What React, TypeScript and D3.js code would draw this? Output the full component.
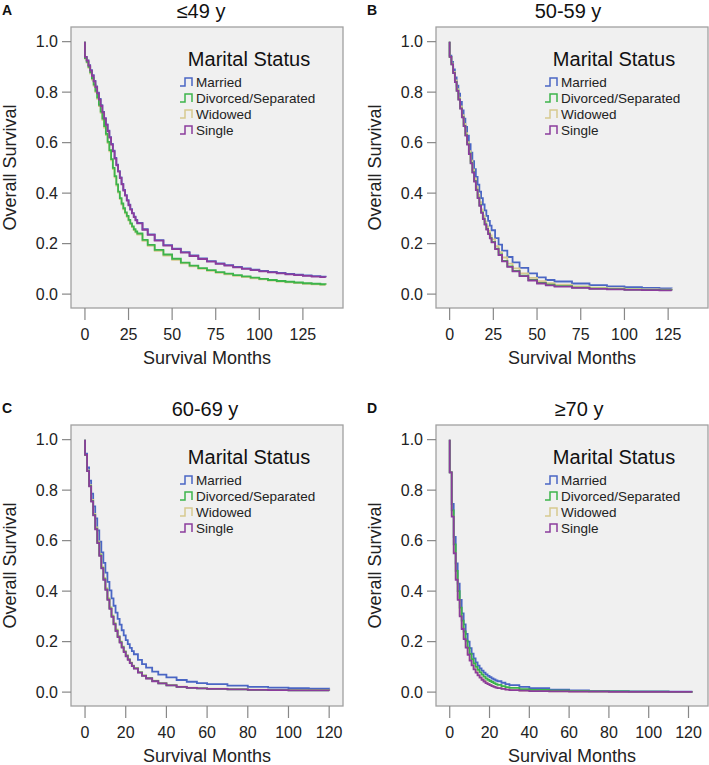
import React from 'react';
import * as d3 from 'd3';

const groupLabels = ['Married', 'Divorced/Separated', 'Widowed', 'Single'];
const groupColors = ['#4a66c4', '#3cb44b', '#d6c98e', '#8b3c9c'];
// draw order: married, widowed, divorced, single (single on top)
const drawOrder = [0, 2, 1, 3];

// ≤49 y
const timesA = [0, 1, 2, 3, 4, 5, 6, 7, 8, 9, 10, 11, 12, 13, 14, 15, 16, 17, 18, 19, 20, 21, 22, 23, 24, 25, 26, 27, 28, 29, 30, 33, 36, 40, 45, 50, 55, 60, 65, 70, 75, 80, 85, 90, 95, 100, 105, 110, 115, 120, 125, 130, 135, 138];
const marriedA = [0.94, 0.926, 0.907, 0.887, 0.867, 0.845, 0.823, 0.798, 0.773, 0.748, 0.722, 0.697, 0.672, 0.647, 0.622, 0.595, 0.568, 0.54, 0.513, 0.487, 0.462, 0.437, 0.413, 0.392, 0.372, 0.354, 0.337, 0.321, 0.307, 0.294, 0.282, 0.257, 0.237, 0.214, 0.194, 0.18, 0.166, 0.153, 0.141, 0.131, 0.122, 0.115, 0.108, 0.102, 0.097, 0.092, 0.088, 0.084, 0.08, 0.077, 0.074, 0.071, 0.069, 0.068];
const divorcedA = [0.935, 0.92, 0.9, 0.878, 0.855, 0.83, 0.805, 0.778, 0.75, 0.723, 0.695, 0.665, 0.635, 0.603, 0.57, 0.535, 0.5, 0.467, 0.435, 0.406, 0.38, 0.359, 0.34, 0.324, 0.31, 0.294, 0.28, 0.268, 0.257, 0.248, 0.24, 0.215, 0.195, 0.175, 0.157, 0.14, 0.125, 0.113, 0.103, 0.095, 0.087, 0.081, 0.075, 0.07, 0.065, 0.06, 0.056, 0.052, 0.049, 0.046, 0.043, 0.041, 0.039, 0.038];
const widowedA = [0.933, 0.917, 0.896, 0.873, 0.85, 0.825, 0.8, 0.773, 0.745, 0.718, 0.69, 0.66, 0.63, 0.598, 0.565, 0.53, 0.495, 0.462, 0.43, 0.402, 0.376, 0.355, 0.336, 0.32, 0.306, 0.291, 0.277, 0.265, 0.254, 0.245, 0.236, 0.211, 0.191, 0.171, 0.153, 0.136, 0.122, 0.11, 0.1, 0.092, 0.084, 0.078, 0.072, 0.067, 0.062, 0.058, 0.054, 0.05, 0.047, 0.044, 0.041, 0.039, 0.037, 0.036];
const singleA = [0.94, 0.925, 0.905, 0.885, 0.865, 0.843, 0.82, 0.795, 0.77, 0.745, 0.72, 0.695, 0.67, 0.645, 0.62, 0.592, 0.565, 0.537, 0.51, 0.485, 0.46, 0.435, 0.41, 0.39, 0.37, 0.352, 0.335, 0.32, 0.305, 0.292, 0.28, 0.255, 0.235, 0.212, 0.192, 0.178, 0.164, 0.151, 0.139, 0.129, 0.12, 0.113, 0.106, 0.1, 0.095, 0.09, 0.086, 0.082, 0.078, 0.075, 0.072, 0.069, 0.067, 0.066];

// 50-59 y
const timesB = [0, 1, 2, 3, 4, 5, 6, 7, 8, 9, 10, 11, 12, 13, 14, 15, 16, 17, 18, 19, 20, 21, 22, 23, 24, 26, 28, 30, 33, 36, 40, 45, 50, 55, 60, 70, 80, 90, 100, 110, 120, 127];
const marriedB = [0.945, 0.92, 0.89, 0.858, 0.826, 0.794, 0.761, 0.728, 0.695, 0.662, 0.628, 0.594, 0.56, 0.527, 0.495, 0.464, 0.434, 0.406, 0.38, 0.355, 0.332, 0.31, 0.29, 0.271, 0.253, 0.222, 0.196, 0.172, 0.147, 0.126, 0.104, 0.082, 0.066, 0.056, 0.05, 0.042, 0.036, 0.031, 0.028, 0.025, 0.023, 0.022];
const divorcedB = [0.94, 0.91, 0.876, 0.841, 0.806, 0.771, 0.736, 0.701, 0.666, 0.63, 0.594, 0.557, 0.52, 0.483, 0.448, 0.414, 0.382, 0.352, 0.324, 0.299, 0.277, 0.258, 0.24, 0.223, 0.207, 0.18, 0.157, 0.132, 0.11, 0.092, 0.073, 0.056, 0.044, 0.037, 0.032, 0.026, 0.022, 0.02, 0.018, 0.017, 0.016, 0.015];
const widowedB = [0.94, 0.913, 0.88, 0.846, 0.812, 0.778, 0.744, 0.709, 0.674, 0.638, 0.602, 0.566, 0.529, 0.493, 0.458, 0.425, 0.393, 0.364, 0.336, 0.311, 0.288, 0.268, 0.25, 0.233, 0.217, 0.19, 0.166, 0.145, 0.121, 0.102, 0.082, 0.064, 0.051, 0.043, 0.037, 0.031, 0.026, 0.023, 0.02, 0.019, 0.018, 0.017];
const singleB = [0.94, 0.91, 0.875, 0.84, 0.805, 0.77, 0.735, 0.7, 0.665, 0.628, 0.592, 0.555, 0.518, 0.481, 0.446, 0.412, 0.38, 0.35, 0.322, 0.297, 0.275, 0.256, 0.238, 0.221, 0.205, 0.178, 0.155, 0.13, 0.108, 0.09, 0.071, 0.054, 0.042, 0.035, 0.03, 0.025, 0.021, 0.019, 0.017, 0.016, 0.015, 0.014];

// 60-69 y
const timesC = [0, 1, 2, 3, 4, 5, 6, 7, 8, 9, 10, 11, 12, 13, 14, 15, 16, 17, 18, 19, 20, 21, 22, 23, 24, 26, 28, 30, 33, 36, 40, 45, 50, 55, 60, 70, 80, 90, 100, 110, 120];
const marriedC = [0.945, 0.89, 0.838, 0.786, 0.736, 0.688, 0.641, 0.596, 0.553, 0.512, 0.473, 0.437, 0.403, 0.371, 0.342, 0.315, 0.29, 0.267, 0.245, 0.225, 0.206, 0.19, 0.175, 0.162, 0.15, 0.128, 0.111, 0.097, 0.081, 0.069, 0.058, 0.048, 0.041, 0.036, 0.032, 0.026, 0.021, 0.018, 0.016, 0.014, 0.013];
const divorcedC = [0.94, 0.876, 0.817, 0.757, 0.702, 0.647, 0.592, 0.542, 0.492, 0.447, 0.407, 0.367, 0.332, 0.3, 0.27, 0.244, 0.22, 0.198, 0.178, 0.16, 0.144, 0.13, 0.116, 0.104, 0.094, 0.078, 0.065, 0.055, 0.044, 0.035, 0.027, 0.021, 0.017, 0.015, 0.013, 0.011, 0.009, 0.008, 0.007, 0.007, 0.006];
const widowedC = [0.94, 0.878, 0.82, 0.761, 0.706, 0.652, 0.597, 0.547, 0.497, 0.452, 0.412, 0.372, 0.337, 0.304, 0.274, 0.248, 0.223, 0.201, 0.181, 0.162, 0.146, 0.132, 0.118, 0.106, 0.096, 0.079, 0.066, 0.056, 0.045, 0.036, 0.028, 0.022, 0.018, 0.016, 0.014, 0.012, 0.01, 0.009, 0.008, 0.008, 0.007];
const singleC = [0.94, 0.875, 0.815, 0.755, 0.7, 0.645, 0.59, 0.54, 0.49, 0.445, 0.405, 0.365, 0.33, 0.298, 0.268, 0.242, 0.218, 0.196, 0.176, 0.158, 0.142, 0.128, 0.115, 0.103, 0.093, 0.077, 0.064, 0.054, 0.043, 0.035, 0.027, 0.021, 0.017, 0.015, 0.013, 0.011, 0.009, 0.008, 0.007, 0.007, 0.006];

// ≥70 y
const timesD = [0, 1, 2, 3, 4, 5, 6, 7, 8, 9, 10, 11, 12, 13, 14, 15, 16, 17, 18, 19, 20, 21, 22, 23, 24, 26, 28, 30, 35, 40, 50, 60, 70, 80, 90, 100, 110, 122];
const marriedD = [0.87, 0.745, 0.615, 0.51, 0.43, 0.365, 0.312, 0.268, 0.231, 0.2, 0.174, 0.152, 0.134, 0.118, 0.105, 0.094, 0.085, 0.077, 0.07, 0.064, 0.059, 0.054, 0.05, 0.046, 0.043, 0.037, 0.032, 0.028, 0.021, 0.016, 0.01, 0.007, 0.005, 0.004, 0.003, 0.003, 0.002, 0.002];
const divorcedD = [0.87, 0.72, 0.585, 0.48, 0.4, 0.335, 0.283, 0.24, 0.204, 0.175, 0.151, 0.131, 0.114, 0.1, 0.088, 0.078, 0.069, 0.061, 0.054, 0.049, 0.044, 0.04, 0.036, 0.032, 0.029, 0.024, 0.02, 0.017, 0.012, 0.009, 0.006, 0.004, 0.003, 0.003, 0.002, 0.002, 0.001, 0.001];
const widowedD = [0.87, 0.7, 0.555, 0.45, 0.37, 0.305, 0.255, 0.214, 0.18, 0.152, 0.128, 0.109, 0.093, 0.08, 0.068, 0.059, 0.051, 0.044, 0.038, 0.033, 0.029, 0.025, 0.022, 0.019, 0.017, 0.014, 0.011, 0.009, 0.006, 0.005, 0.003, 0.002, 0.002, 0.001, 0.001, 0.001, 0.001, 0.001];
const singleD = [0.87, 0.695, 0.55, 0.445, 0.365, 0.3, 0.25, 0.21, 0.176, 0.148, 0.125, 0.106, 0.09, 0.077, 0.066, 0.057, 0.049, 0.042, 0.036, 0.032, 0.028, 0.024, 0.021, 0.018, 0.016, 0.013, 0.01, 0.008, 0.006, 0.004, 0.003, 0.002, 0.002, 0.001, 0.001, 0.001, 0.001, 0.001];

const xTicksAB = [0, 25, 50, 75, 100, 125];
const xTicksCD = [0, 20, 40, 60, 80, 100, 120];
const yTicks = [0, 0.2, 0.4, 0.6, 0.8, 1.0];

const panels = [
  { letter: 'A', title: '≤49 y', times: timesA, series: [marriedA, divorcedA, widowedA, singleA], xTicks: xTicksAB, xDomain: [-8, 148], left: 71, top: 27, titleX: 201 },
  { letter: 'B', title: '50-59 y', times: timesB, series: [marriedB, divorcedB, widowedB, singleB], xTicks: xTicksAB, xDomain: [-7.8, 147.8], left: 436, top: 27, titleX: 568 },
  { letter: 'C', title: '60-69 y', times: timesC, series: [marriedC, divorcedC, widowedC, singleC], xTicks: xTicksCD, xDomain: [-6.9, 126.8], left: 71, top: 425, titleX: 205 },
  { letter: 'D', title: '≥70 y', times: timesD, series: [marriedD, divorcedD, widowedD, singleD], xTicks: xTicksCD, xDomain: [-6.9, 129.8], left: 436, top: 425, titleX: 579 },
];

const W = 272;
const H = 281;
const FONT = 'Liberation Sans, Arial, Helvetica, sans-serif';

const Panel = ({ p }) => {
  const x = d3.scaleLinear().domain(p.xDomain).range([0, W]);
  const y = d3.scaleLinear().domain([-0.055, 1.058]).range([H, 0]);
  const line = d3.line().x(d => x(d[0])).y(d => y(d[1])).curve(d3.curveStepAfter);
  const midY = H / 2;

  return (
    <g transform={`translate(${p.left},${p.top})`} fontFamily={FONT}>
      {/* panel letter and title */}
      <text x={-69} y={-12} fontSize={14} fontWeight="bold" fill="#111">{p.letter}</text>
      <text x={p.titleX - p.left} y={-9} fontSize={20} textAnchor="middle" fill="#111">{p.title}</text>

      <rect x={0} y={0} width={W} height={H} fill="#f0f0f0" stroke="#a0a0a0" strokeWidth={1.3} />

      {/* y axis */}
      {yTicks.map(t => (
        <g key={t} transform={`translate(0,${y(t)})`}>
          <line x1={-9} x2={0} stroke="#888" strokeWidth={1.2} />
          <text x={-13} dy="0.36em" textAnchor="end" fontSize={16} fill="#222">{t.toFixed(1)}</text>
        </g>
      ))}
      <text transform={`translate(${-55},${midY}) rotate(-90)`} textAnchor="middle" fontSize={18} fill="#222">Overall Survival</text>

      {/* x axis */}
      {p.xTicks.map(t => (
        <g key={t} transform={`translate(${x(t)},${H})`}>
          <line y1={0} y2={12} stroke="#888" strokeWidth={1.2} />
          <text y={32} textAnchor="middle" fontSize={16} fill="#222">{t}</text>
        </g>
      ))}
      <text x={W / 2} y={H + 56} textAnchor="middle" fontSize={18} fill="#222">Survival Months</text>

      {/* curves */}
      {drawOrder.map(i => {
        const pts = [[0, 1], ...p.times.map((t, k) => [t, p.series[i][k]])];
        return <path key={i} d={line(pts)} fill="none" stroke={groupColors[i]} strokeWidth={1.8} />;
      })}

      {/* legend */}
      <text x={178} y={39} textAnchor="middle" fontSize={20} fill="#111">Marital Status</text>
      {groupLabels.map((lab, i) => {
        const by = 60 + i * 16;
        const sx = 109;
        const cy = by - 5;
        return (
          <g key={lab}>
            <path d={`M${sx},${cy + 4}H${sx + 5}V${cy - 4}H${sx + 12}V${cy + 4}`} fill="none" stroke={groupColors[i]} strokeWidth={1.5} />
            <text x={sx + 16} y={by} fontSize={13.5} fill="#222">{lab}</text>
          </g>
        );
      })}
    </g>
  );
}

export default function App() {
  return (
    <svg width={709} height={765} style={{ position: 'absolute', left: 0, top: 0, background: '#fff' }}>
      <rect width={709} height={765} fill="#fff" />
      {panels.map(p => <Panel key={p.letter} p={p} />)}
    </svg>
  );
}
